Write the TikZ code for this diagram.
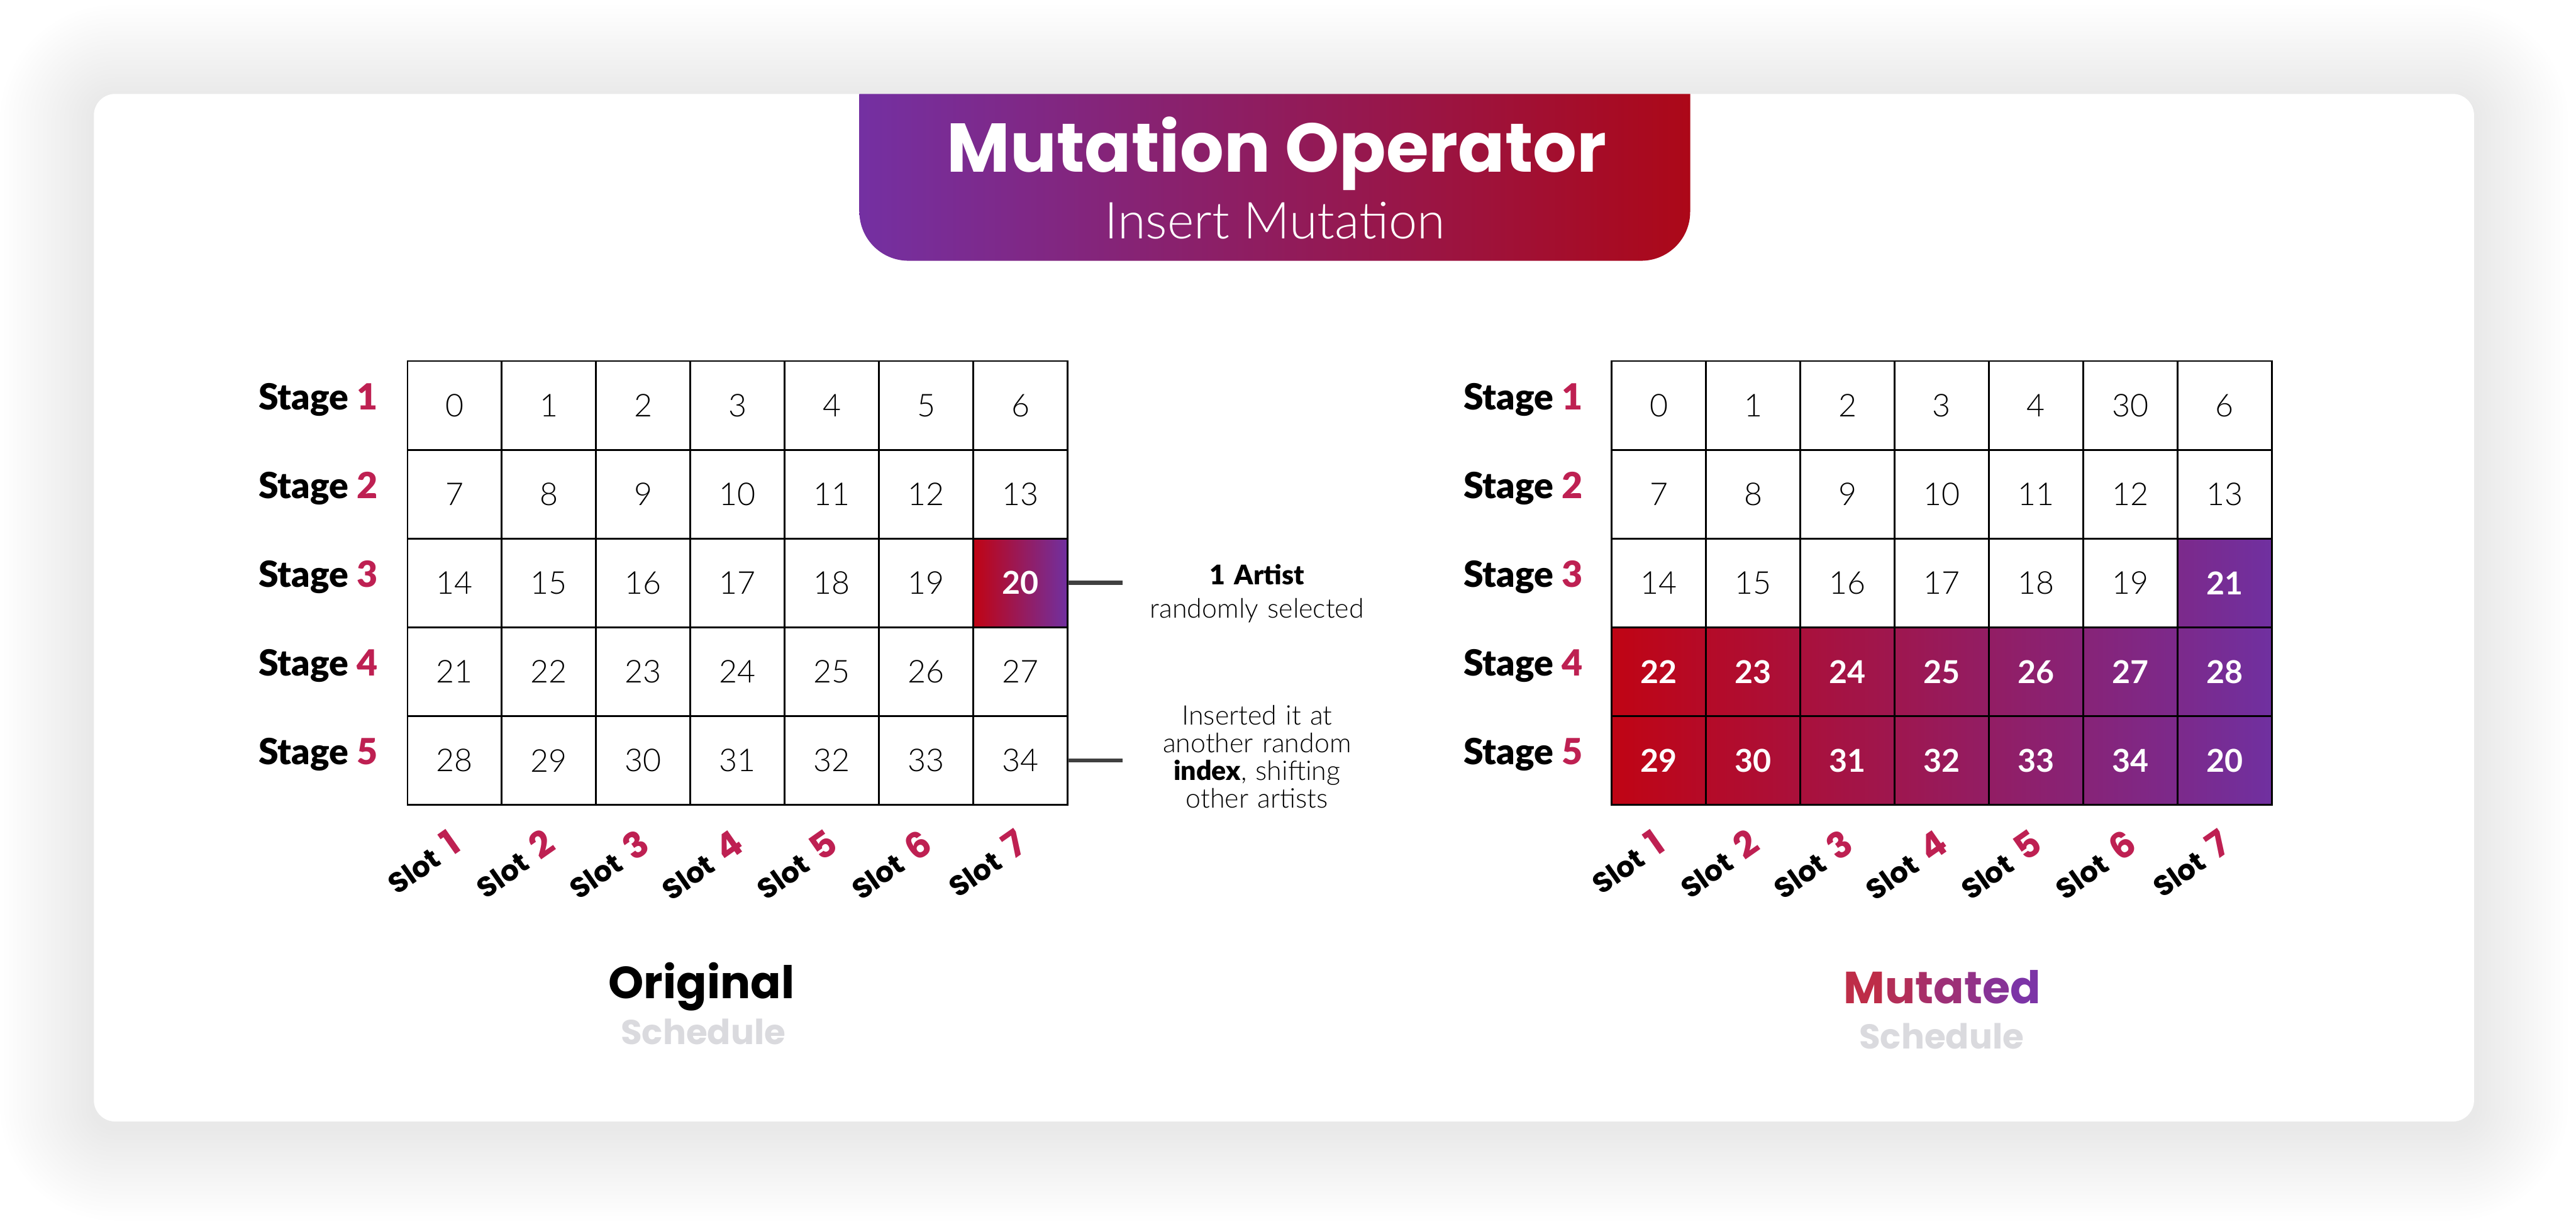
\documentclass[tikz,border=0pt]{standalone}
\usepackage{fontspec}
\setmainfont{Lato}
\newfontfamily\lightfont{Lato Light}
\newfontfamily\blackfont{Lato Black}
\newfontfamily\popfont{Poppins}
\usetikzlibrary{positioning,calc}
\definecolor{gradRed}   {RGB}{192,4,20}
\definecolor{gradPurple}{RGB}{112,48,160}
\definecolor{tabRed}    {RGB}{172,8,24}
\definecolor{tabMid}    {RGB}{152,40,122}
\definecolor{tabPurple} {RGB}{116,48,162}
\definecolor{digitRed}  {RGB}{190,32,82}
\definecolor{mutA}      {RGB}{190,45,72}
\definecolor{mutB}      {RGB}{124,52,166}
\definecolor{schedGray} {RGB}{218,218,222}
\definecolor{leadGray}  {RGB}{64,64,64}

\begin{document}
\begin{tikzpicture}[every node/.style={inner sep=0pt,outer sep=0pt},
  cell/.style={draw,line width=1.2pt,minimum width=2.21cm,minimum height=2.08cm,font=\lightfont\fontsize{21}{21}\selectfont},
  hot/.style={cell,text=white,font=\bfseries\fontsize{21}{21}\selectfont},
  stagelab/.style={anchor=base east,font=\blackfont\fontsize{24}{24}\selectfont},
  slotlab/.style={anchor=base east,rotate=35,font=\popfont\bfseries\fontsize{19}{19}\selectfont},
  note/.style={anchor=north,text width=6.3cm,align=center},
  leader/.style={draw=leadGray,line width=2.8pt},
  caption/.style={anchor=base,font=\popfont\bfseries\fontsize{30}{30}\selectfont},
  subcap/.style={anchor=base,text=schedGray,font=\popfont\bfseries\fontsize{23}{23}\selectfont}]
\useasboundingbox (0,0) rectangle (60.37,-28.68);
\fill[white] (0,0) rectangle (60.37,-28.68);
% soft shadow under the card
\foreach \k in {1,...,22}{
  \pgfmathsetmacro\d{0.1*\k}
  \pgfmathsetmacro\rr{0.5+\d}
  \fill[black,opacity=0.005,rounded corners=\rr cm] ({2.20-\d},{-2.32+\d}) rectangle ({57.98+\d},{-26.40-\d});
}
\fill[white,rounded corners=0.5cm] (2.20,-2.20) rectangle (57.98,-26.28);
% title tab
\shade[left color=tabPurple,middle color=tabMid,right color=tabRed]
  (20.14,-2.20) -- (20.14,-4.96) arc[start angle=180,end angle=270,radius=1.15]
  -- (38.46,-6.11) arc[start angle=270,end angle=360,radius=1.15] -- (39.61,-2.20) -- cycle;
\node[anchor=base,text=white,font=\popfont\bfseries\fontsize{46}{46}\selectfont] (title) at (29.92,-4.03) {Mutation Operator};
\node[anchor=base,text=white,font=\lightfont\fontsize{34}{34}\selectfont] (subtitle) at (29.88,-5.60) {Insert Mutation};
% original schedule
\foreach \v [count=\i from 0] in {0,...,34}{
  \pgfmathtruncatemacro\r{div(\i,7)+1}
  \pgfmathtruncatemacro\c{mod(\i,7)+1}
  \ifnum\i=20
    \node[hot,left color=gradRed,right color=gradPurple] (o-\r-\c) at ({9.55+(\c-0.5)*2.21},{-8.46-(\r-0.5)*2.08}) {\v};
  \else
    \node[cell] (o-\r-\c) at ({9.55+(\c-0.5)*2.21},{-8.46-(\r-0.5)*2.08}) {\v};
  \fi
}
% mutated schedule
\foreach \v [count=\i from 0] in {0,1,2,3,4,30,6,7,8,9,10,11,12,13,14,15,16,17,18,19,21,22,23,24,25,26,27,28,29,30,31,32,33,34,20}{
  \pgfmathtruncatemacro\r{div(\i,7)+1}
  \pgfmathtruncatemacro\c{mod(\i,7)+1}
  \pgfmathtruncatemacro\pa{(\c-1)*100/7}
  \pgfmathtruncatemacro\pb{\c*100/7}
  \ifnum\i<20
    \node[cell] (m-\r-\c) at ({37.77+(\c-0.5)*2.21},{-8.46-(\r-0.5)*2.08}) {\v};
  \else
    \node[hot,left color=gradPurple!\pa!gradRed,right color=gradPurple!\pb!gradRed] (m-\r-\c) at ({37.77+(\c-0.5)*2.21},{-8.46-(\r-0.5)*2.08}) {\v};
  \fi
}
\foreach \r in {1,...,5}{
  \node[stagelab] (os-\r) at ([xshift=-0.70cm,yshift=-0.10cm]o-\r-1.west) {Stage \textcolor{digitRed}{\r}};
  \node[stagelab] (ms-\r) at ([xshift=-0.68cm,yshift=-0.10cm]m-\r-1.west) {Stage \textcolor{digitRed}{\r}};
}
\foreach \c in {1,...,7}{
  \node[slotlab] (oslot-\c) at ([xshift=0.20cm,yshift=-1.04cm]o-5-\c.south) {Slot\hspace{0.4em}{\fontsize{24}{24}\selectfont\textcolor{digitRed}{\c}}};
  \node[slotlab] (mslot-\c) at ([xshift=0.20cm,yshift=-1.04cm]m-5-\c.south) {Slot\hspace{0.4em}{\fontsize{24}{24}\selectfont\textcolor{digitRed}{\c}}};
}
% notes
\node[note,font=\lightfont\fontsize{18}{22.2}\selectfont] (note1) at (29.46,-13.23) {{\blackfont 1 Artist}\\randomly selected};
\node[note,font=\lightfont\fontsize{18}{18.4}\selectfont] (note2) at (29.46,-16.53) {Inserted it at\\another random\\{\blackfont index}, shifting\\other artists};
\draw[leader] (o-3-7.east) -- (o-3-7.east -| note1.west);
\draw[leader] (o-5-7.east) -- (o-5-7.east -| note2.west);
% captions
\node[caption] (orig) at (16.44,-23.40) {Original};
\node[subcap] (origsub) at (16.48,-24.47) {Schedule};
\node[caption] (mut) at (45.52,-23.52) {\textcolor{mutA}{M}\textcolor{mutB!17!mutA}{u}\textcolor{mutB!33!mutA}{t}\textcolor{mutB!50!mutA}{a}\textcolor{mutB!67!mutA}{t}\textcolor{mutB!83!mutA}{e}\textcolor{mutB}{d}};
\node[subcap] (mutsub) at (45.50,-24.57) {Schedule};
\end{tikzpicture}
\end{document}
